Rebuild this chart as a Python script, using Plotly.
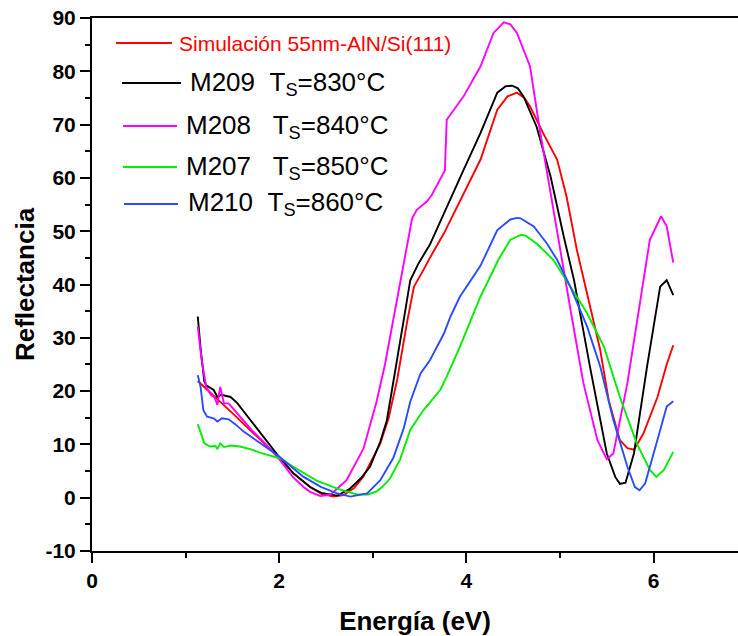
import plotly.graph_objects as go

# ---------------- data ----------------
sim_x = [1.13, 1.30, 1.48, 1.70, 2.01, 2.15, 2.33, 2.45, 2.58, 2.69, 2.80, 2.90, 3.00, 3.08, 3.17, 3.26,
         3.37, 3.44, 3.54, 3.61, 3.76, 3.93, 4.15, 4.33, 4.44, 4.54, 4.62, 4.68, 4.82, 4.97, 5.07, 5.18,
         5.29, 5.43, 5.52, 5.64, 5.72, 5.79, 5.89, 6.04, 6.14, 6.21]
sim_y = [21.9, 19.2, 16.2, 12.5, 7.4, 4.6, 2.0, 0.7, 0.2, 0.5, 1.8, 4.0, 7.3, 10.2, 15.0, 22.1,
         33.3, 39.6, 42.7, 45.0, 49.6, 55.5, 63.4, 72.8, 75.3, 76.0, 75.0, 73.4, 68.4, 63.4, 56.5, 46.5,
         38.4, 27.7, 18.3, 10.8, 9.3, 9.0, 12.0, 18.8, 25.0, 28.6]

m209_x = [1.13, 1.16, 1.20, 1.22, 1.30, 1.34, 1.38, 1.48, 1.55, 1.70, 1.85, 2.01, 2.15, 2.33, 2.45, 2.62,
          2.75, 2.87, 2.97, 3.08, 3.15, 3.22, 3.33, 3.40, 3.49, 3.61, 3.79, 3.97, 4.15, 4.33, 4.42, 4.49,
          4.55, 4.61, 4.75, 4.90, 5.04, 5.15, 5.32, 5.50, 5.59, 5.64, 5.70, 5.79, 5.93, 6.07, 6.14, 6.21]
m209_y = [34.0, 28.0, 21.8, 21.1, 20.2, 18.9, 19.3, 18.9, 17.8, 14.4, 11.0, 7.4, 4.6, 2.0, 0.9, 0.4,
          1.6, 3.6, 5.8, 10.5, 14.5, 21.5, 33.3, 40.8, 44.0, 47.5, 54.6, 61.5, 68.4, 76.0, 77.2, 77.3,
          76.8, 75.3, 69.6, 60.2, 49.0, 40.8, 24.6, 8.3, 3.9, 2.6, 2.8, 8.3, 24.6, 39.6, 40.8, 38.0]

m208_x = [1.13, 1.17, 1.22, 1.27, 1.31, 1.34, 1.37, 1.41, 1.46, 1.55, 1.70, 1.85, 2.01, 2.15, 2.26, 2.33,
          2.44, 2.55, 2.72, 2.90, 3.04, 3.13, 3.22, 3.33, 3.42, 3.47, 3.58, 3.63, 3.72, 3.77, 3.79, 3.97,
          4.15, 4.29, 4.40, 4.47, 4.54, 4.68, 4.79, 4.88, 4.97, 5.11, 5.25, 5.40, 5.50, 5.57, 5.72, 5.86,
          5.96, 6.08, 6.14, 6.21]
m208_y = [32.1, 26.0, 20.8, 19.3, 18.8, 17.4, 20.8, 17.7, 17.7, 15.8, 12.8, 10.2, 7.0, 3.8, 2.0, 1.1,
          0.3, 0.6, 3.3, 9.2, 18.0, 25.0, 33.3, 44.0, 52.4, 54.0, 55.6, 56.8, 59.6, 61.4, 70.9, 75.3,
          80.9, 87.2, 89.2, 88.8, 87.2, 80.9, 68.4, 59.0, 50.0, 35.5, 21.5, 10.8, 7.2, 8.3, 21.5, 37.1,
          48.4, 52.8, 50.9, 44.1]

m207_x = [1.13, 1.17, 1.20, 1.26, 1.32, 1.34, 1.37, 1.41, 1.48, 1.58, 1.69, 1.80, 1.905, 2.01, 2.15, 2.26,
          2.40, 2.62, 2.83, 2.95, 3.04, 3.10, 3.18, 3.29, 3.40, 3.54, 3.72, 3.79, 3.93, 4.15, 4.34, 4.47,
          4.58, 4.63, 4.75, 4.93, 5.11, 5.29, 5.47, 5.64, 5.82, 5.96, 6.03, 6.11, 6.21]
m207_y = [13.8, 11.5, 10.2, 9.6, 9.7, 9.1, 10.2, 9.5, 9.8, 9.6, 9.1, 8.4, 7.9, 7.4, 5.8, 4.6,
          3.2, 1.7, 0.6, 0.6, 1.2, 2.0, 3.5, 7.1, 12.7, 16.4, 20.2, 22.7, 28.3, 37.7, 44.6, 48.4,
          49.3, 49.2, 47.7, 44.6, 39.6, 34.6, 28.3, 18.9, 10.2, 5.2, 3.9, 5.2, 8.6]

m210_x = [1.13, 1.16, 1.19, 1.23, 1.30, 1.34, 1.39, 1.46, 1.53, 1.62, 1.80, 2.01, 2.26, 2.45, 2.62, 2.76,
          2.94, 3.08, 3.22, 3.33, 3.40, 3.51, 3.61, 3.76, 3.83, 3.93, 4.15, 4.33, 4.47, 4.54, 4.58, 4.72,
          4.86, 4.97, 5.11, 5.29, 5.43, 5.57, 5.72, 5.80, 5.85, 5.91, 6.04, 6.14, 6.21]
m210_y = [23.0, 20.8, 16.4, 15.2, 14.9, 14.3, 14.9, 14.7, 13.8, 12.4, 10.2, 7.6, 3.9, 2.0, 0.8, 0.2,
          0.8, 3.3, 7.5, 13.0, 18.0, 23.3, 25.8, 30.8, 34.0, 37.7, 43.5, 50.2, 52.2, 52.5, 52.4, 50.9,
          47.7, 44.6, 39.6, 32.1, 24.6, 14.6, 5.8, 2.0, 1.4, 2.7, 10.8, 17.1, 18.1]

series_names = ["Simulación 55nm-AlN/Si(111)",
                "M209\u00a0\u00a0T<sub>S</sub>=830°C",
                "M208\u00a0\u00a0\u00a0T<sub>S</sub>=840°C",
                "M207\u00a0\u00a0\u00a0T<sub>S</sub>=850°C",
                "M210\u00a0\u00a0T<sub>S</sub>=860°C"]
series_colors = ["#ff0000", "#000000", "#ff00ff", "#00ee00", "#2a4cff"]
legend_text_colors = ["#ff0000", "#000000", "#000000", "#000000", "#000000"]
series_x = [sim_x, m209_x, m208_x, m207_x, m210_x]
series_y = [sim_y, m209_y, m208_y, m207_y, m210_y]

x_ticks = [0, 2, 4, 6]
x_ticklabels = ["0", "2", "4", "6"]
y_ticks = [-10, 0, 10, 20, 30, 40, 50, 60, 70, 80, 90]
y_ticklabels = ["-10", "0", "10", "20", "30", "40", "50", "60", "70", "80", "90"]

# ---------------- figure ----------------
W, H = 738, 636
L, R, T, B = 92, 0, 18, 85
pw, ph = W - L - R, H - T - B

FONT = "Liberation Sans, Arial, sans-serif"

fig = go.Figure()
for nm, c, xs, ys in zip(series_names, series_colors, series_x, series_y):
    fig.add_trace(go.Scatter(x=xs, y=ys, mode="lines", name=nm,
                             line=dict(color=c, width=1.9), showlegend=False))

def px2paper(px, py):
    return (px - L) / pw, (H - B - py) / ph

# manual legend (positions)
legend_rows = [
    # line x0, line x1, line y, text x, text size
    (116, 172, 43, 177, 21),
    (122, 181, 83, 188, 26),
    (123, 177, 126, 184, 26),
    (123, 177, 167, 184, 26),
    (124, 178, 204, 186, 26),
]
for (x0, x1, yy, tx, fs), nm, c, tc in zip(legend_rows, series_names, series_colors, legend_text_colors):
    a0, b0 = px2paper(x0, yy)
    a1, _ = px2paper(x1, yy)
    fig.add_shape(type="line", xref="paper", yref="paper", x0=a0, x1=a1, y0=b0, y1=b0,
                  line=dict(color=c, width=2))
    ta, tb = px2paper(tx, yy)
    fig.add_annotation(xref="paper", yref="paper", x=ta, y=tb, text=nm, showarrow=False,
                       xanchor="left", yanchor="middle",
                       font=dict(family=FONT, size=fs, color=tc))

axis_common = dict(showline=True, linecolor="black", linewidth=2, ticks="outside",
                   ticklen=10, tickwidth=2, tickcolor="black", showgrid=False, zeroline=False,
                   tickfont=dict(family=FONT, size=21, color="black", weight=700))

fig.update_xaxes(range=[0, pw / 93.6], tickvals=x_ticks,
                 ticktext=["<b>%s</b>" % t for t in x_ticklabels], mirror=True,
                 minor=dict(dtick=1, tick0=0, ticklen=5, tickwidth=2, ticks="outside", tickcolor="black"),
                 title=dict(text="<b>Energía (eV)</b>", font=dict(family=FONT, size=26, color="black", weight=700),
                            standoff=21),
                 **axis_common)
fig.update_yaxes(range=[-10, 90], tickvals=y_ticks,
                 ticktext=["<b>%s</b>" % t for t in y_ticklabels],
                 minor=dict(dtick=5, tick0=0, ticklen=5, tickwidth=2, ticks="outside", tickcolor="black"),
                 title=dict(text="<b>Reflectancia</b>", font=dict(family=FONT, size=26, color="black", weight=700),
                            standoff=3),
                 **axis_common)

fig.update_layout(width=W, height=H, margin=dict(l=L, r=R, t=T, b=B, autoexpand=False),
                  plot_bgcolor="white", paper_bgcolor="white", showlegend=False)

fig.write_html("out.html")
